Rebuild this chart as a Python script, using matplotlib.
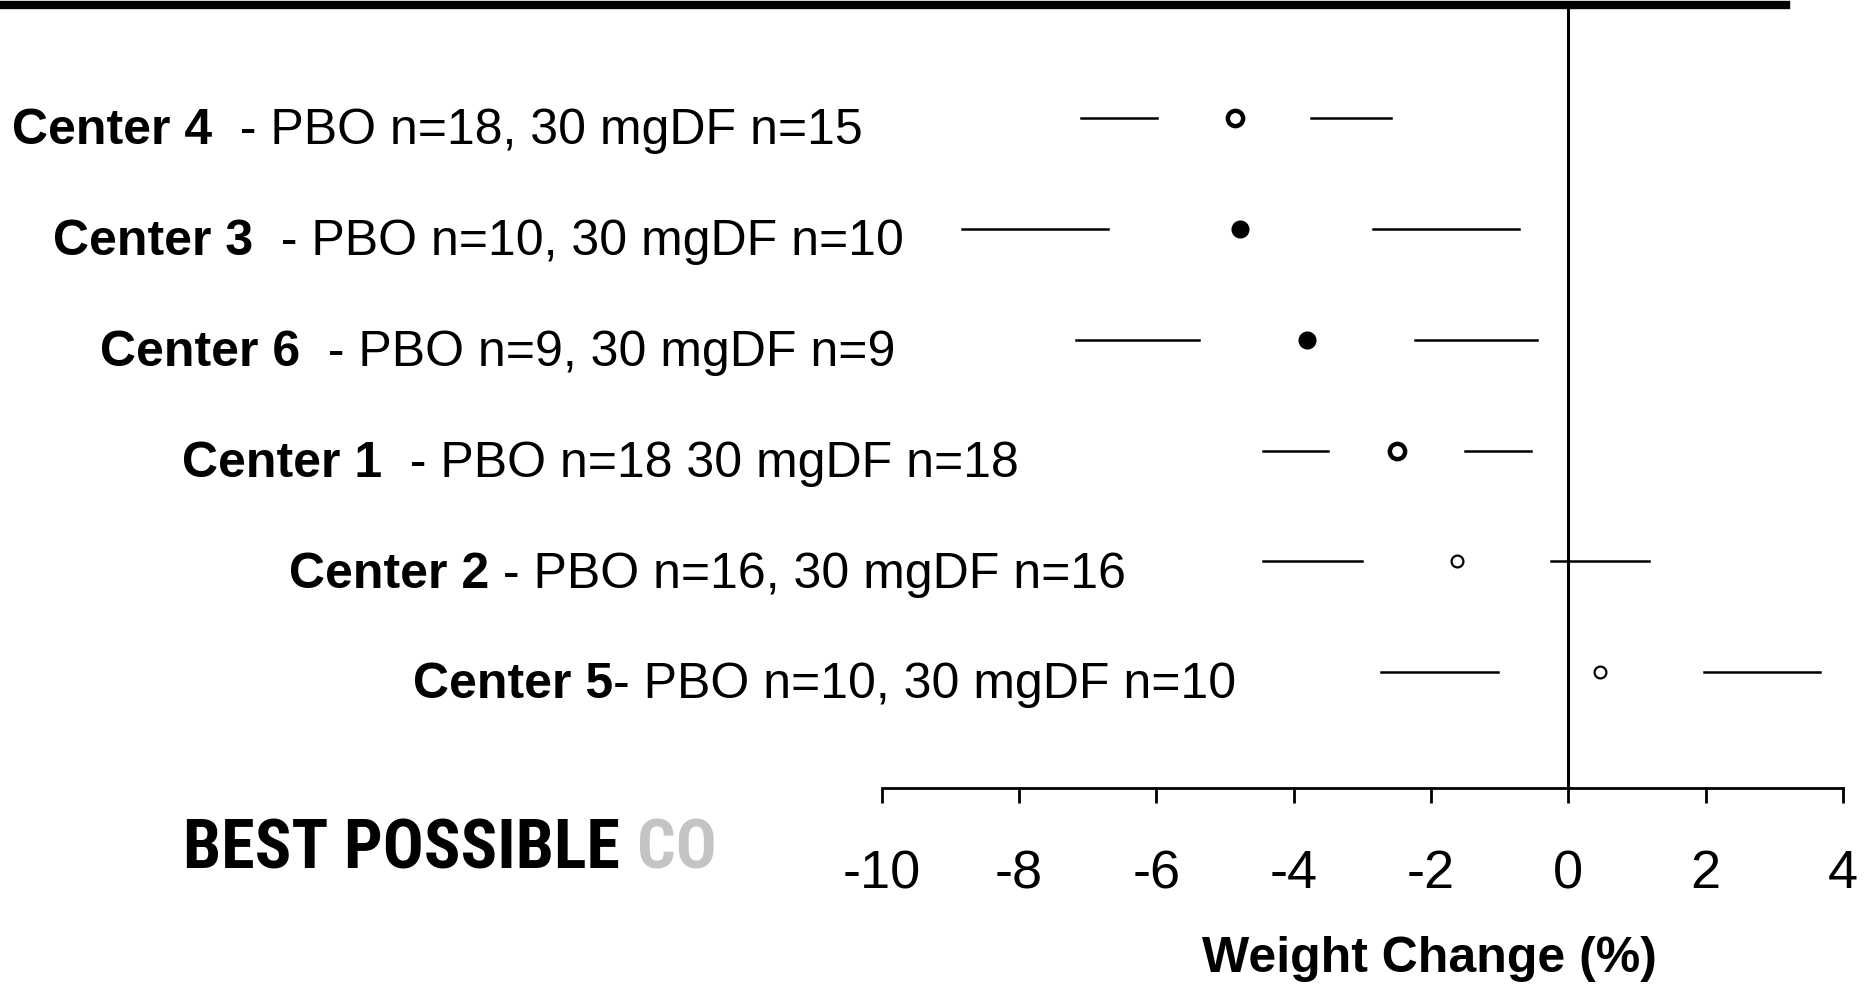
import matplotlib
matplotlib.use("Agg")
import matplotlib.pyplot as plt
from matplotlib.lines import Line2D
from matplotlib.transforms import blended_transform_factory

plt.rcParams['font.family'] = ['Liberation Sans', 'DejaVu Sans']

# data, top row first
centers = ['Center 4', 'Center 3', 'Center 6', 'Center 1', 'Center 2', 'Center 5']
details = ['  - PBO n=18, 30 mgDF n=15',
           '  - PBO n=10, 30 mgDF n=10',
           '  - PBO n=9, 30 mgDF n=9',
           '  - PBO n=18 30 mgDF n=18',
           ' - PBO n=16, 30 mgDF n=16',
           '- PBO n=10, 30 mgDF n=10']
means = [-4.85, -4.78, -3.81, -2.50, -1.62, 0.46]
left_lo = [-7.10, -8.83, -7.17, -4.45, -4.45, -2.72]
left_hi = [-5.99, -6.70, -5.38, -3.50, -3.01, -1.03]
right_lo = [-3.75, -2.85, -2.23, -1.50, -0.25, 1.98]
right_hi = [-2.58, -0.72, -0.45, -0.54, 1.18, 3.67]
xticks = [-10, -8, -6, -4, -2, 0, 2, 4]

# layout / style
label_x = [12, 53, 100, 182, 289, 413]  # left edge of each label, px
marker_kind = ['ring', 'dot', 'dot', 'ring', 'open', 'open']

W, H = 1873, 989
fig = plt.figure(figsize=(W / 100, H / 100), dpi=100)
ax = fig.add_axes([881.5 / W, (H - 788) / H, (1843 - 881.5) / W, (788 - 5) / H])

n = len(centers)
rows = list(range(n, 0, -1))

for i, y in enumerate(rows):
    ax.plot([left_lo[i], left_hi[i]], [y, y], color='black', lw=1.8)
    ax.plot([right_lo[i], right_hi[i]], [y, y], color='black', lw=1.8)
    k = marker_kind[i]
    if k == 'dot':
        ax.plot(means[i], y, 'o', color='black', ms=12)
    elif k == 'ring':
        ax.plot(means[i], y, 'o', mfc='white', mec='black', mew=3.2, ms=11)
    else:
        ax.plot(means[i], y, 'o', mfc='white', mec='black', mew=1.6, ms=8.5)

ax.axvline(0, color='black', lw=2.2)

ax.set_xlim(-10, 4)
ax.set_ylim(-0.045, 7.02)
ax.set_xticks(xticks)
ax.set_xticklabels([str(t) for t in xticks])
ax.set_yticks([])
for s in ['top', 'left', 'right']:
    ax.spines[s].set_visible(False)
ax.spines['bottom'].set_linewidth(2)
ax.tick_params(axis='x', direction='out', length=11, width=2, pad=33, labelsize=39)
ax.set_xlabel('Weight Change (%)', fontsize=36, fontweight='bold', va='center')
ax.xaxis.set_label_coords(0.570, -0.218)

# row labels
tr = blended_transform_factory(fig.transFigure, ax.transData)
for i, y in enumerate(rows):
    t = ax.text(label_x[i] / W, y - 0.12, centers[i], transform=tr,
                fontsize=36, fontweight='bold', ha='left', va='center')
    ax.annotate(details[i], xy=(1, 0), xycoords=t, ha='left', va='bottom',
                fontsize=36)

# heavy rule along the top of the page
fig.add_artist(Line2D([0, 1786 / W], [1 - 5 / H, 1 - 5 / H], color='black', lw=6,
                      transform=fig.transFigure))

# scanner stamp
stamp_font = ['Roboto Condensed', 'Liberation Sans']
st = fig.text(183 / W, 1 - 850 / H, 'BEST POSSIBLE', fontsize=49, fontweight='bold',
              family=stamp_font, ha='left', va='center')
ax.annotate('CO', xy=(1, 0), xycoords=st, xytext=(12, 0), textcoords='offset points',
            fontsize=49, fontweight='bold', color='#c4c4c4', family=stamp_font,
            ha='left', va='bottom', annotation_clip=False)

fig.savefig('out.png', dpi=100, facecolor='white')
